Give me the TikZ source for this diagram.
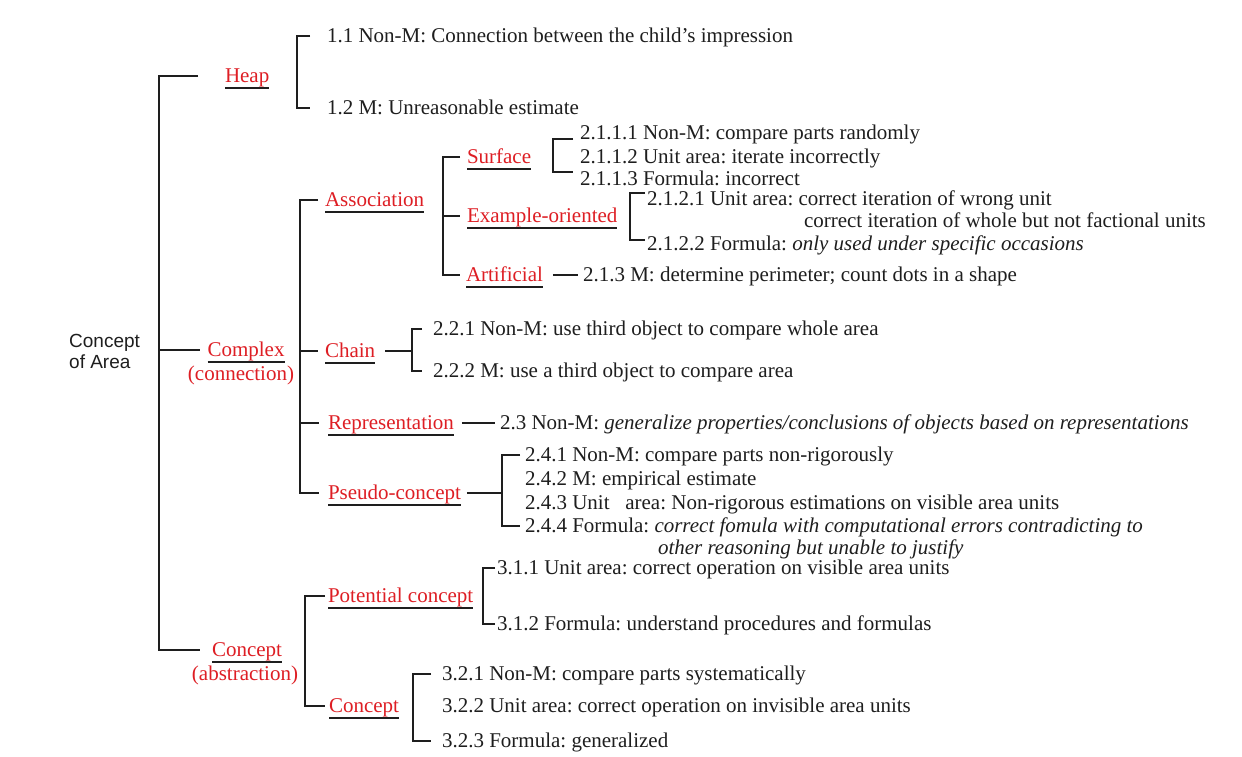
\documentclass[tikz,border=0pt]{standalone}
\usepackage{fontspec}
\setmainfont{Liberation Serif}
\setsansfont{Liberation Sans}
\usetikzlibrary{calc}
\definecolor{lab}{RGB}{222,30,36}
\definecolor{ink}{RGB}{30,30,30}
\tikzset{
  base/.style={inner sep=0pt, outer sep=0pt, anchor=west, text height=18pt, text depth=5pt, font=\fontsize{21}{24}\selectfont, text=ink},
  txt/.style={base},
  lbl/.style={base, text=lab},
  sub/.style={base, anchor=center, text=lab},
  ln/.style={draw=ink, line width=2.2pt},
  ul/.style={draw=ink, line width=1.8pt},
}
\begin{document}
\frenchspacing
\begin{tikzpicture}[x=1pt,y=-1pt]
\useasboundingbox (0,0) rectangle (1242,757);
\fill[white] (0,0) rectangle (1242,757);

% root
\node[inner sep=0pt, anchor=west, align=left, text=ink, font=\sffamily\fontsize{19}{21}\selectfont] (root) at (69,351) {Concept\\of Area};

% level 1
\node[lbl] (heap) at (225,76) {Heap};
\node[sub] (cx) at (246,350) {Complex};
\node[sub] (cxs) at (241,374) {(connection)};
\node[sub] (cc) at (247,650) {Concept};
\node[sub] (ccs) at (245,674) {(abstraction)};

% heap children
\node[txt] (h11) at (327,36) {1.1 Non-M: Connection between the child’s impression};
\node[txt] (h12) at (327,108) {1.2 M: Unreasonable estimate};

% complex children
\node[lbl] (assoc) at (325,200) {Association};
\node[lbl] (chain) at (325,351) {Chain};
\node[lbl] (rep) at (328,423) {Representation};
\node[lbl] (pseudo) at (328,493) {Pseudo-concept};

% association children
\node[lbl] (surf) at (467,157) {Surface};
\node[lbl] (exo) at (467,216) {Example-oriented};
\node[lbl] (art) at (466,275) {Artificial};

\node[txt] (s1) at (580,133) {2.1.1.1 Non-M: compare parts randomly};
\node[txt] (s2) at (580,157) {2.1.1.2 Unit area: iterate incorrectly};
\node[txt] (s3) at (580,179) {2.1.1.3 Formula: incorrect};

\node[txt] (e1) at (647,199) {2.1.2.1 Unit area: correct iteration of wrong unit};
\node[txt] (e1b) at ([xshift=157pt,yshift=-22pt]e1.west) {correct iteration of whole but not factional units};
\node[txt] (e2) at (647,244) {2.1.2.2 Formula: \textit{only used under specific occasions}};

\node[txt] (a1) at (583,275) {2.1.3 M: determine perimeter; count dots in a shape};

\node[txt] (c1) at (433,329) {2.2.1 Non-M: use third object to compare whole area};
\node[txt] (c2) at (433,371) {2.2.2 M: use a third object to compare area};

\node[txt] (r1) at (500,423) {2.3 Non-M: \textit{generalize properties/conclusions of objects based on representations}};

\node[txt] (p1) at (525,455) {2.4.1 Non-M: compare parts non-rigorously};
\node[txt] (p2) at (525,479) {2.4.2 M: empirical estimate};
\node[txt] (p3) at (525,503) {2.4.3 Unit\ \ \ area: Non-rigorous estimations on visible area units};
\node[txt] (p4) at (525,526) {2.4.4 Formula: \textit{correct fomula with computational errors contradicting to}};
\node[txt] (p4b) at (658,548) {\textit{other reasoning but unable to justify}};

% concept children
\node[lbl] (pot) at (328,596) {Potential concept};
\node[lbl] (con) at (329,706) {Concept};

\node[txt] (t1) at (497,568) {3.1.1 Unit area: correct operation on visible area units};
\node[txt] (t2) at (497,624) {3.1.2 Formula: understand procedures and formulas};

\node[txt] (u1) at (442,674) {3.2.1 Non-M: compare parts systematically};
\node[txt] (u2) at (442,706) {3.2.2 Unit area: correct operation on invisible area units};
\node[txt] (u3) at (442,741) {3.2.3 Formula: generalized};

% underlines
\foreach \n in {heap,cx,cc,assoc,chain,rep,pseudo,surf,exo,art,pot,con}
  \draw[ul] ([yshift=-0.5pt]\n.south west) -- ([yshift=-0.5pt]\n.south east);

% spine coordinates
\coordinate (T) at (159,0);
\coordinate (B2) at (300,0);
\coordinate (B3) at (443,0);

% trunk
\draw[ln] ([xshift=-27pt]heap.west) -- (T|-heap.west) -- (T|-cc.west) -- ([xshift=-12pt]cc.west);
\draw[ln] (T|-cx.west) -- ([xshift=-8pt]cx.west);

% heap bracket
\draw[ln] ([xshift=-17pt]h11.west) -- ([xshift=-30pt]h11.west) -- ([xshift=-30pt]h12.west) -- ([xshift=-17pt]h12.west);

% complex bracket
\draw[ln] ([xshift=-7pt]assoc.west) -- (B2|-assoc.west) -- (B2|-pseudo.west) -- ([xshift=-9pt]pseudo.west);
\draw[ln] (B2|-chain.west) -- ([xshift=-7pt]chain.west);
\draw[ln] (B2|-rep.west) -- ([xshift=-9pt]rep.west);

% association bracket
\draw[ln] ([xshift=-7pt]surf.west) -- (B3|-surf.west) -- (B3|-art.west) -- ([xshift=-6pt]art.west);
\draw[ln] (B3|-exo.west) -- ([xshift=-7pt]exo.west);

% surface bracket
\draw[ln] ([xshift=-7pt,yshift=-6pt]s1.west) -- ([xshift=-27pt,yshift=-6pt]s1.west) -- ([xshift=-27pt,yshift=7pt]s3.west) -- ([xshift=-7pt,yshift=7pt]s3.west);

% example bracket
\draw[ln] ([xshift=-2pt,yshift=6pt]e1.west) -- ([xshift=-17pt,yshift=6pt]e1.west) -- ([xshift=-17pt,yshift=4pt]e2.west) -- ([xshift=-2pt,yshift=4pt]e2.west);

% artificial
\draw[ln] ([xshift=10pt]art.east) -- ([xshift=-5pt]a1.west);

% chain
\draw[ln] ([xshift=10pt]chain.east) -- ([xshift=-21pt]c1.west|-chain.east);
\draw[ln] ([xshift=-11pt]c1.west) -- ([xshift=-21pt]c1.west) -- ([xshift=-21pt]c2.west) -- ([xshift=-11pt]c2.west);

% representation
\draw[ln] ([xshift=8pt]rep.east) -- ([xshift=-5pt]r1.west);

% pseudo
\draw[ln] ([xshift=6pt]pseudo.east) -- ([xshift=-23pt]p1.west|-pseudo.east);
\draw[ln] ([xshift=-5pt]p1.west) -- ([xshift=-23pt]p1.west) -- ([xshift=-23pt]p4.west) -- ([xshift=-5pt]p4.west);

% concept bracket
\draw[ln] ([xshift=-3pt]pot.west) -- ([xshift=-23pt]pot.west) -- ([xshift=-23pt]pot.west|-con.west) -- ([xshift=-4pt]con.west);

% potential bracket
\draw[ln] ([xshift=-2pt]t1.west) -- ([xshift=-14pt]t1.west) -- ([xshift=-14pt]t2.west) -- ([xshift=-2pt]t2.west);

% concept2 bracket
\draw[ln] ([xshift=-11pt]u1.west) -- ([xshift=-29pt]u1.west) -- ([xshift=-29pt]u3.west) -- ([xshift=-11pt]u3.west);
\end{tikzpicture}
\end{document}
